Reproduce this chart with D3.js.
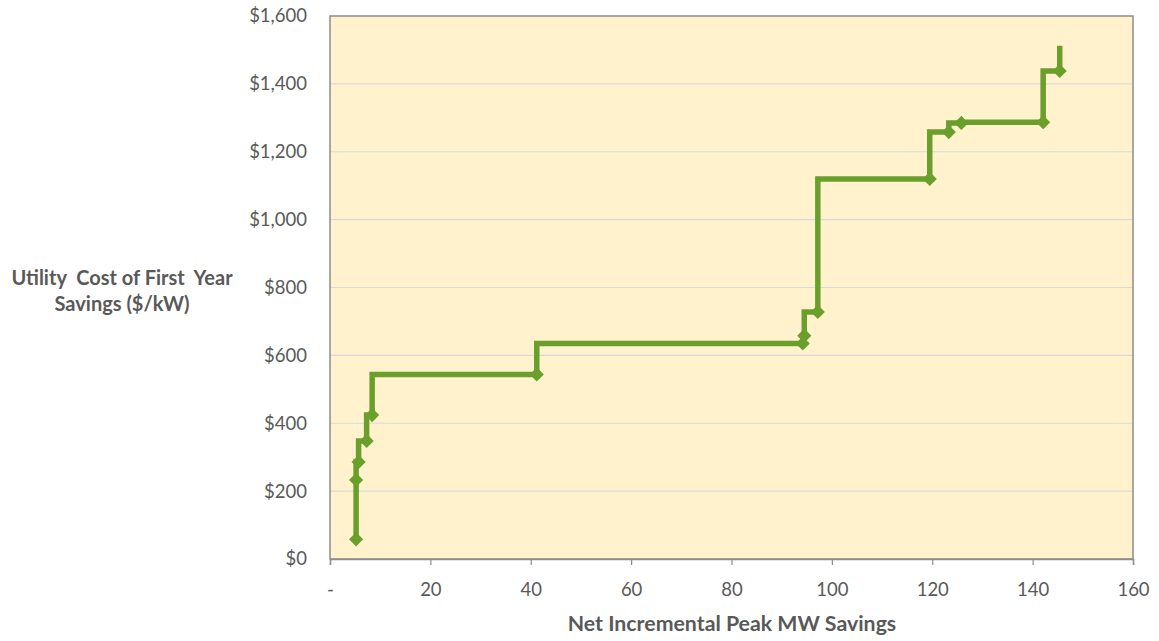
<!DOCTYPE html>
<html>
<head>
<meta charset="utf-8">
<script src="https://cdn.jsdelivr.net/npm/d3@7"></script>
<style>
  html, body { margin: 0; padding: 0; background: #ffffff; }
  svg { display: block; }
</style>
</head>
<body>
<svg id="chart" width="1159" height="641"></svg>
<script>
// ---- data ----
const mwSavings = [5.2, 5.2, 5.7, 7.3, 8.4, 41.2, 94.2, 94.5, 97.2, 119.5, 123.3, 125.8, 142.1, 145.4];
const costPerKw = [58, 233, 286, 348, 424, 544, 635, 658, 728, 1120, 1258, 1285, 1287, 1438];
const lineEndMw = [145.4];
const lineEndCost = [1512];
const xTicks = [0, 20, 40, 60, 80, 100, 120, 140, 160];
const yTicks = [0, 200, 400, 600, 800, 1000, 1200, 1400, 1600];
const xTitle = "Net Incremental Peak MW Savings";
const yTitleLines = ["Utility  Cost of First  Year", "Savings ($/kW)"];

// ---- layout ----
(function () {
const svg = d3.select("#chart");
const pLeft = 330, pRight = 1133, pTop = 16, pBottom = 559;
const font = "Lato, 'Open Sans', sans-serif";
const textColor = "#595959";
const green = "#6a9f2c";

const x = d3.scaleLinear().domain([0, 160]).range([pLeft, pRight]);
const y = d3.scaleLinear().domain([0, 1600]).range([pBottom, pTop]);

// plot background
svg.append("rect")
  .attr("x", pLeft).attr("y", pTop)
  .attr("width", pRight - pLeft).attr("height", pBottom - pTop)
  .attr("fill", "#fff2cc");

// gridlines
svg.append("g")
  .selectAll("line")
  .data(yTicks.filter(d => d > 0 && d < 1600))
  .join("line")
  .attr("x1", pLeft).attr("x2", pRight)
  .attr("y1", d => y(d)).attr("y2", d => y(d))
  .attr("stroke", "#d9d9d9").attr("stroke-width", 1.2);

// border
svg.append("rect")
  .attr("x", pLeft).attr("y", pTop)
  .attr("width", pRight - pLeft).attr("height", pBottom - pTop)
  .attr("fill", "none")
  .attr("stroke", "#8c8c8c").attr("stroke-width", 1.5);

// x axis
const xAxis = d3.axisBottom(x)
  .tickValues(xTicks)
  .tickSize(6)
  .tickPadding(18)
  .tickFormat(d => d === 0 ? "-" : d3.format("d")(d));
const gx = svg.append("g").attr("transform", `translate(0,${pBottom})`).call(xAxis);
gx.select(".domain").attr("stroke", "#8c8c8c").attr("stroke-width", 1.5);
gx.selectAll(".tick line").attr("stroke", "#8c8c8c").attr("stroke-width", 1.2);
gx.selectAll(".tick text")
  .attr("fill", textColor)
  .style("font-family", font)
  .style("font-size", "18.5px");

// y axis
const yAxis = d3.axisLeft(y)
  .tickValues(yTicks)
  .tickSize(0)
  .tickPadding(23)
  .tickFormat(d => "$" + d3.format(",")(d));
const gy = svg.append("g").attr("transform", `translate(${pLeft},0)`).call(yAxis);
gy.select(".domain").remove();
gy.selectAll(".tick text")
  .attr("fill", textColor)
  .style("font-family", font)
  .style("font-size", "18.5px");

// axis titles
svg.append("text")
  .attr("x", 732)
  .attr("y", 631)
  .attr("text-anchor", "middle")
  .attr("fill", textColor)
  .style("font-family", font)
  .style("font-weight", "bold")
  .style("font-size", "21.3px")
  .text(xTitle);

svg.append("g")
  .selectAll("text")
  .data(yTitleLines)
  .join("text")
  .attr("x", 122)
  .attr("y", (d, i) => 285 + i * 26)
  .attr("text-anchor", "middle")
  .attr("fill", textColor)
  .style("font-family", font)
  .style("font-weight", "bold")
  .style("font-size", "20px")
  .style("white-space", "pre")
  .text(d => d);

// step line
const points = mwSavings.map((m, i) => [m, costPerKw[i]])
  .concat(lineEndMw.map((m, i) => [m, lineEndCost[i]]));
const line = d3.line()
  .x(d => x(d[0]))
  .y(d => y(d[1]))
  .curve(d3.curveStepBefore);
svg.append("path")
  .datum(points)
  .attr("d", line)
  .attr("fill", "none")
  .attr("stroke", green)
  .attr("stroke-width", 5.5)
  .attr("stroke-linejoin", "miter")
  .attr("stroke-linecap", "butt");

// diamond markers
const sym = d3.symbol().type(d3.symbolSquare).size(100);
svg.append("g")
  .selectAll("path")
  .data(mwSavings.map((m, i) => [m, costPerKw[i]]))
  .join("path")
  .attr("d", sym)
  .attr("transform", d => `translate(${x(d[0])},${y(d[1])}) rotate(45)`)
  .attr("fill", green);
})();
</script>
</body>
</html>
